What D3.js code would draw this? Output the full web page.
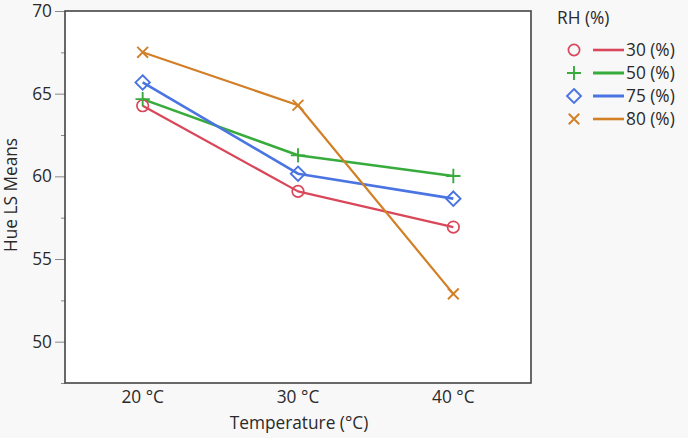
<!DOCTYPE html>
<html><head><meta charset="utf-8">
<script src="https://cdn.jsdelivr.net/npm/d3@7/dist/d3.min.js"></script>
<style>
html,body{margin:0;padding:0;background:#f8f8f8;}
svg{display:block;font-family:"Open Sans","Noto Sans",sans-serif;}
</style></head>
<body><svg id="c" width="688" height="438"></svg>
<script>
const categories = ["20 °C", "30 °C", "40 °C"];
const seriesNames = ["30 (%)", "50 (%)", "75 (%)", "80 (%)"];
const values30 = [64.27, 59.09, 56.93];
const values50 = [64.67, 61.27, 60.02];
const values75 = [65.68, 60.16, 58.65];
const values80 = [67.5, 64.3, 52.89];
const yTicks = [50, 55, 60, 65, 70];
const yMinorTicks = [47.5, 52.5, 57.5, 62.5, 67.5];

const FS = "17.3px";
const series = [
  {name: seriesNames[0], values: values30, color: "#d9475a", sym: "circle", w: 2.2},
  {name: seriesNames[1], values: values50, color: "#37ab3c", sym: "plus", w: 2.6},
  {name: seriesNames[2], values: values75, color: "#4a74e2", sym: "diamond", w: 2.6},
  {name: seriesNames[3], values: values80, color: "#d27f26", sym: "x", w: 2.2}
];

const svg = d3.select("#c");
const L = 65, R = 531, T = 11, B = 383;
const x = d3.scaleBand().domain(categories).range([L, R]);
const y = d3.scaleLinear().domain([47.5, 70]).range([B, T]);

svg.append("rect").attr("x", L).attr("y", T).attr("width", R - L).attr("height", B - T).attr("fill", "#fff");

// y axis
const yAxis = svg.append("g").attr("transform", `translate(${L},0)`)
  .call(d3.axisLeft(y).tickValues(yTicks).tickSize(10).tickPadding(3).tickFormat(d3.format("d")));
yAxis.select(".domain").remove();
yAxis.selectAll("line").attr("stroke", "#888");
yAxis.selectAll("text").attr("fill", "#2a2a2a").style("font-size", FS).attr("font-family", "Open Sans, Noto Sans, sans-serif");
const yMinor = svg.append("g").attr("transform", `translate(${L},0)`)
  .call(d3.axisLeft(y).tickValues(yMinorTicks).tickSize(4).tickFormat(""));
yMinor.select(".domain").remove();
yMinor.selectAll("line").attr("stroke", "#888");

// x axis
const xAxis = svg.append("g").attr("transform", `translate(0,${B})`)
  .call(d3.axisBottom(x).tickSize(0).tickPadding(8));
xAxis.select(".domain").remove();
xAxis.selectAll("text").attr("fill", "#2a2a2a").style("font-size", FS).attr("font-family", "Open Sans, Noto Sans, sans-serif");

// frame
svg.append("rect").attr("x", L).attr("y", T).attr("width", R - L).attr("height", B - T)
  .attr("fill", "none").attr("stroke", "#444").attr("stroke-width", 1.6);

// axis titles
svg.append("text").attr("x", (L + R) / 2 + 1).attr("y", 429).attr("text-anchor", "middle")
  .attr("fill", "#2a2a2a").style("font-size", FS).text("Temperature (°C)");
svg.append("text").attr("transform", `translate(17,${(T + B) / 2 - 2}) rotate(-90)`).attr("text-anchor", "middle")
  .attr("fill", "#2a2a2a").style("font-size", FS).text("Hue LS Means");

function marker(g, sym, color, s) {
  if (sym === "circle") {
    g.append("circle").attr("r", s * 0.8).attr("fill", "none").attr("stroke", color).attr("stroke-width", 1.7);
  } else if (sym === "plus") {
    g.append("path").attr("d", `M${-s},0H${s}M0,${-s}V${s}`).attr("stroke", color).attr("stroke-width", 1.9).attr("fill", "none");
  } else if (sym === "diamond") {
    g.append("path").attr("d", `M0,${-s}L${s},0L0,${s}L${-s},0Z`).attr("stroke", color).attr("stroke-width", 1.9).attr("fill", "none");
  } else {
    const k = s * 0.75;
    g.append("path").attr("d", `M${-k},${-k}L${k},${k}M${-k},${k}L${k},${-k}`).attr("stroke", color).attr("stroke-width", 1.9).attr("fill", "none");
  }
}

const line = d3.line().x((d, i) => x(categories[i]) + x.bandwidth() / 2).y(d => y(d));
series.forEach(s => {
  svg.append("path").datum(s.values).attr("d", line).attr("fill", "none")
    .attr("stroke", s.color).attr("stroke-width", s.w).attr("stroke-linejoin", "round");
});
series.forEach(s => {
  s.values.forEach((v, i) => {
    const g = svg.append("g").attr("transform", `translate(${x(categories[i]) + x.bandwidth() / 2},${y(v)})`);
    marker(g, s.sym, s.color, 7.2);
  });
});

// legend
svg.append("text").attr("x", 557).attr("y", 24).attr("fill", "#2a2a2a").style("font-size", FS).text("RH (%)");
const ly = d3.scalePoint().domain(seriesNames).range([50, 119]);
series.forEach(s => {
  const yy = ly(s.name);
  const g = svg.append("g").attr("transform", `translate(574,${yy})`);
  marker(g, s.sym, s.color, 7);
  svg.append("line").attr("x1", 593).attr("x2", 624).attr("y1", yy).attr("y2", yy)
    .attr("stroke", s.color).attr("stroke-width", s.w + 0.4);
  svg.append("text").attr("x", 626).attr("y", yy + 6).attr("fill", "#2a2a2a").style("font-size", FS).text(s.name);
});
</script></body></html>
